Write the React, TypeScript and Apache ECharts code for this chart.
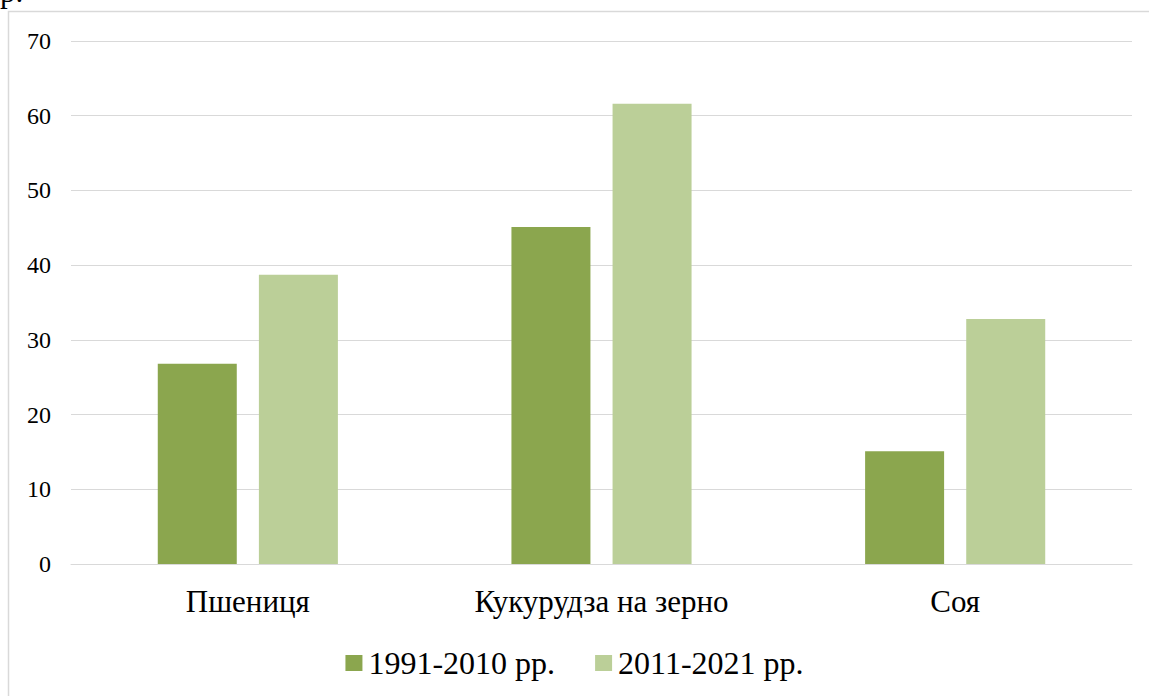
import React, { useEffect, useRef } from "react";
import * as echarts from "echarts";

const categories = ["Пшениця", "Кукурудза на зерно", "Соя"];
const series1991 = [26.8, 45.1, 15.1];
const series2011 = [38.7, 61.6, 32.8];
const seriesNames = ["1991-2010 рр.", "2011-2021 рр."];

export default function App() {
  const ref = useRef<HTMLDivElement>(null);
  useEffect(() => {
    const chart = echarts.init(ref.current!, null, { renderer: "svg" });
    const font = "Liberation Serif";
    chart.setOption({
      animation: false,
      textStyle: { fontFamily: font },
      graphic: [
        {
          type: "polyline",
          shape: { points: [[8.5, 696], [8.5, 11.5], [1149, 11.5]] },
          style: { stroke: "#d9d9d9", lineWidth: 1.5, fill: "none" },
          silent: true,
        },
        {
          type: "text",
          left: 0,
          top: -24,
          style: { text: "р.", fontSize: 31, fontFamily: font, fill: "#000" },
          silent: true,
        },
      ],
      grid: { left: 71, right: 17, top: 41, bottom: 132, containLabel: false },
      legend: {
        bottom: 12,
        left: "center",
        itemWidth: 17,
        itemHeight: 16,
        itemGap: 40,
        icon: "rect",
        textStyle: { fontSize: 32, fontFamily: font, color: "#000", padding: [0, 0, 0, 1] },
        data: seriesNames,
      },
      xAxis: {
        type: "category",
        data: categories,
        axisLine: { show: true, lineStyle: { color: "#d9d9d9", width: 1 } },
        axisTick: { show: false },
        axisLabel: { fontSize: 31, color: "#000", margin: 22, fontFamily: font },
      },
      yAxis: {
        type: "value",
        min: 0,
        max: 70,
        interval: 10,
        axisLine: { show: false },
        axisTick: { show: false },
        splitLine: { lineStyle: { color: "#d9d9d9", width: 1 } },
        axisLabel: { fontSize: 24, color: "#000", margin: 20, fontFamily: font },
      },
      series: [
        {
          name: seriesNames[0],
          type: "bar",
          data: series1991,
          barWidth: 79,
          barGap: "28%",
          itemStyle: { color: "#8ba64e" },
        },
        {
          name: seriesNames[1],
          type: "bar",
          data: series2011,
          barWidth: 79,
          itemStyle: { color: "#bbcf98" },
        },
      ],
    });
    return () => chart.dispose();
  }, []);
  return (
    <div
      ref={ref}
      style={{ position: "fixed", left: 0, top: 0, width: 1149, height: 696, background: "#fff" }}
    />
  );
}
